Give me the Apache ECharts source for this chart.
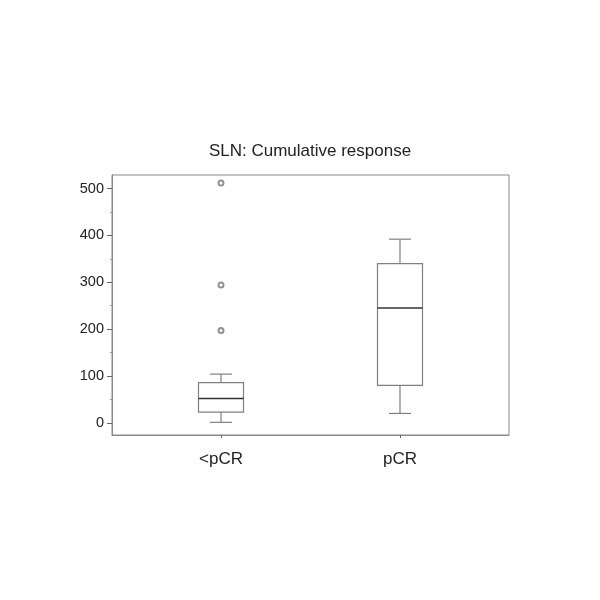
<!DOCTYPE html>
<html>
<head>
<meta charset="utf-8">
<script src="https://cdn.jsdelivr.net/npm/echarts@6/dist/echarts.min.js"></script>
<style>html,body{margin:0;padding:0;background:#fff}#c{width:600px;height:600px}</style>
</head>
<body>
<div id="c"></div>
<script>
var categories = ['<pCR', 'pCR'];
// [min whisker, Q1, median, Q3, max whisker]
var boxValues = [
  [1, 23, 52, 86, 104],
  [20, 80, 245, 340, 392]
];
var outlierCategory = [0, 0, 0];
var outlierValues = [512, 294, 197];
var yTickLabels = [0, 100, 200, 300, 400, 500];
var yMinorTicks = [50, 150, 250, 350, 450];

var boxData = boxValues.map(function (v, i) { return [i].concat(v); });
var outlierData = outlierValues.map(function (v, i) { return [outlierCategory[i], v]; });

var chart = echarts.init(document.getElementById('c'), null, {renderer: 'canvas'});
var FONT = 'Liberation Sans, Arial, sans-serif';
chart.setOption({
  backgroundColor: '#fff',
  animation: false,
  title: {
    text: 'SLN: Cumulative response',
    left: 305, top: 138, textAlign: 'center',
    textStyle: {fontFamily: FONT, fontSize: 17, fontWeight: 'normal', color: '#222'}
  },
  grid: {left: 112, right: 91, top: 175, bottom: 165, show: true, borderColor: '#8a8a8a', borderWidth: 1},
  xAxis: [{
    type: 'value', min: -0.609, max: 1.609,
    splitLine: {show: false},
    axisLine: {show: true, onZero: false, lineStyle: {color: '#8a8a8a'}},
    axisTick: {show: true, length: 3, lineStyle: {color: '#666'}, customValues: [0, 1]},
    axisLabel: {
      customValues: [0, 1],
      fontFamily: FONT, fontSize: 17, color: '#222', margin: 16,
      formatter: function (v) { return categories[Math.round(v)]; }
    }
  }],
  yAxis: [{
    type: 'value', min: -26, max: 529,
    splitLine: {show: false},
    axisLine: {show: true, onZero: false, lineStyle: {color: '#8a8a8a'}},
    axisTick: {show: true, length: 5, lineStyle: {color: '#666'}, customValues: yTickLabels},
    axisLabel: {
      customValues: yTickLabels,
      fontFamily: FONT, fontSize: 14.5, color: '#222', margin: 8
    }
  }, {
    // minor ticks at the half hundreds, sharing the same scale
    type: 'value', min: -26, max: 529, position: 'left',
    splitLine: {show: false},
    axisLine: {show: false, onZero: false},
    axisTick: {show: true, length: 2, lineStyle: {color: '#999'}, customValues: yMinorTicks},
    axisLabel: {show: false}
  }],
  series: [
    {
      type: 'custom',
      data: boxData,
      encode: {x: 0, y: [1, 2, 3, 4, 5]},
      renderItem: function (params, api) {
        var x = api.value(0);
        var pMin = api.coord([x, api.value(1)]);
        var pQ1 = api.coord([x, api.value(2)]);
        var pMed = api.coord([x, api.value(3)]);
        var pQ3 = api.coord([x, api.value(4)]);
        var pMax = api.coord([x, api.value(5)]);
        var hw = 22.5, cw = 11;
        var cx = pMed[0];
        var boxStyle = {stroke: '#808080', lineWidth: 1.2, fill: '#fff'};
        var lineStyle = {stroke: '#808080', lineWidth: 1.2};
        return {
          type: 'group',
          children: [
            {type: 'line', shape: {x1: cx, y1: pMin[1], x2: cx, y2: pQ1[1]}, style: lineStyle},
            {type: 'line', shape: {x1: cx, y1: pQ3[1], x2: cx, y2: pMax[1]}, style: lineStyle},
            {type: 'line', shape: {x1: cx - cw, y1: pMin[1], x2: cx + cw, y2: pMin[1]}, style: lineStyle},
            {type: 'line', shape: {x1: cx - cw, y1: pMax[1], x2: cx + cw, y2: pMax[1]}, style: lineStyle},
            {type: 'rect', shape: {x: cx - hw, y: pQ3[1], width: 2 * hw, height: pQ1[1] - pQ3[1]}, style: boxStyle},
            {type: 'line', shape: {x1: cx - hw, y1: pMed[1], x2: cx + hw, y2: pMed[1]}, style: {stroke: '#333', lineWidth: 1.6}}
          ]
        };
      }
    },
    {
      type: 'scatter',
      data: outlierData,
      symbol: 'emptyCircle',
      symbolSize: 5,
      itemStyle: {color: '#777', borderColor: '#777', borderWidth: 1}
    }
  ]
});
</script>
</body>
</html>
